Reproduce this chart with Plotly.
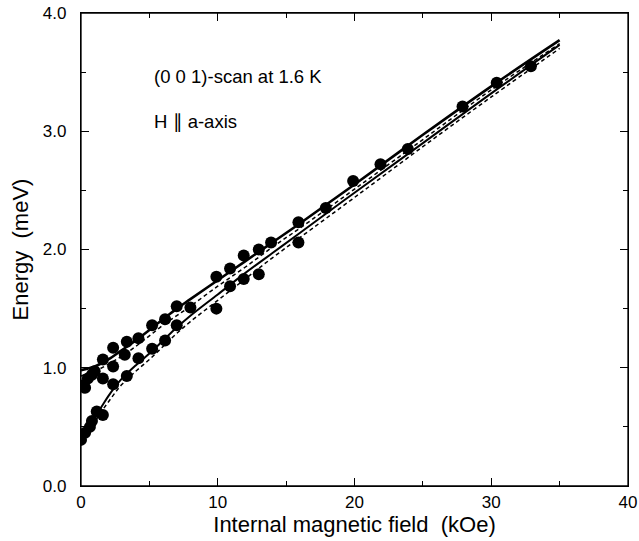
import plotly.graph_objects as go

# measured peaks, lower branch (kOe, meV)
low_field = [0.0, 0.3, 0.65, 0.8, 1.15, 1.6, 2.35, 3.35, 4.2, 5.2, 6.15, 7.0,
             9.9, 10.9, 11.9, 13.0, 15.9]
low_energy = [0.39, 0.45, 0.50, 0.55, 0.63, 0.60, 0.86, 0.93, 1.08, 1.16, 1.23, 1.36,
              1.50, 1.69, 1.75, 1.79, 2.06]

# measured peaks, upper branch
up_field = [0.0, 0.3, 0.5, 0.8, 1.0, 1.6, 1.6, 2.35, 2.35, 3.2, 3.35, 4.2, 5.2, 6.15,
            7.0, 8.0, 9.9, 10.9, 11.9, 13.0, 13.9, 15.9, 17.9, 19.9, 21.9, 23.9,
            27.9, 30.4, 32.9]
up_energy = [0.85, 0.83, 0.91, 0.94, 0.97, 0.91, 1.07, 1.01, 1.17, 1.11, 1.22, 1.25,
             1.36, 1.41, 1.52, 1.51, 1.77, 1.84, 1.95, 2.00, 2.06, 2.23, 2.35, 2.58,
             2.72, 2.85, 3.21, 3.41, 3.55]

# calculated curves
calc_field = [0, 1, 2, 3, 4, 5, 6, 7, 8, 10, 12, 14, 16, 20, 25, 30, 35]
calc_upper = [0.98, 1.01, 1.07, 1.15, 1.23, 1.32, 1.41, 1.50, 1.58, 1.74, 1.90, 2.06,
              2.22, 2.55, 2.97, 3.38, 3.77]
calc_upper_dash = [0.93, 0.97, 1.03, 1.10, 1.18, 1.27, 1.36, 1.44, 1.52, 1.69, 1.85, 2.02,
                   2.18, 2.51, 2.93, 3.35, 3.74]
calc_lower_field = [0, 0.5, 1, 1.5, 2, 2.5, 3, 4, 5, 6, 7, 8, 10, 12, 14, 16, 20, 25, 30, 35]
calc_lower = [0.38, 0.48, 0.58, 0.67, 0.76, 0.84, 0.91, 1.02, 1.12, 1.23, 1.34, 1.44, 1.62,
              1.80, 1.97, 2.14, 2.48, 2.90, 3.32, 3.73]
calc_lower_dash = [0.36, 0.45, 0.54, 0.63, 0.71, 0.79, 0.86, 0.97, 1.07, 1.18, 1.29, 1.39,
                   1.57, 1.75, 1.93, 2.10, 2.44, 2.87, 3.29, 3.70]

fig = go.Figure()

fig.add_trace(go.Scatter(x=calc_field, y=calc_upper, mode="lines", line_shape="spline",
                         line=dict(color="black", width=2.6)))
fig.add_trace(go.Scatter(x=calc_field, y=calc_upper_dash, mode="lines", line_shape="spline",
                         line=dict(color="black", width=1.5, dash="4px,3px")))
fig.add_trace(go.Scatter(x=calc_lower_field, y=calc_lower, mode="lines", line_shape="spline",
                         line=dict(color="black", width=2.0)))
fig.add_trace(go.Scatter(x=calc_lower_field, y=calc_lower_dash, mode="lines", line_shape="spline",
                         line=dict(color="black", width=1.5, dash="4px,3px")))

fig.add_trace(go.Scatter(x=low_field, y=low_energy, mode="markers",
                         marker=dict(color="black", size=12)))
fig.add_trace(go.Scatter(x=up_field, y=up_energy, mode="markers",
                         marker=dict(color="black", size=12)))

font = "Liberation Sans, Arial, sans-serif"
fig.add_annotation(x=5.2, y=3.46, text="(0 0 1)-scan at 1.6 K", showarrow=False,
                   xanchor="left", font=dict(size=18.5, family=font, color="black"))
fig.add_annotation(x=5.2, y=3.08, text="H ∥ a-axis", showarrow=False,
                   xanchor="left", font=dict(size=18.5, family=font, color="black"))

# frame around the plot area
fig.add_shape(type="rect", xref="paper", yref="paper", x0=0, y0=0, x1=1, y1=1,
              line=dict(color="black", width=1.3), layer="above")

axis_common = dict(showgrid=False, zeroline=False, showline=True, linecolor="black",
                   linewidth=1.3, mirror="allticks", ticks="inside", ticklen=8,
                   tickcolor="black", tickwidth=1.2, automargin=False,
                   ticklabeloverflow="allow",
                   tickfont=dict(size=17, family=font, color="black"))

fig.update_xaxes(range=[0, 40], tickvals=[0, 10, 20, 30, 40],
                 minor=dict(dtick=5, ticks="inside", ticklen=5, tickcolor="black"),
                 title=dict(text="Internal magnetic field\u00a0 (kOe)", standoff=2,
                            font=dict(size=22, family=font, color="black")),
                 **axis_common)
fig.update_yaxes(range=[0, 4], dtick=1, tickformat=".1f", ticklabelstandoff=10,
                 minor=dict(dtick=0.5, ticks="inside", ticklen=5, tickcolor="black"),
                 title=dict(text="Energy\u00a0 (meV)", standoff=8,
                            font=dict(size=22, family=font, color="black")),
                 **axis_common)

fig.update_layout(width=639, height=541, showlegend=False,
                  margin=dict(l=81, r=11, t=13, b=55),
                  plot_bgcolor="white", paper_bgcolor="white")

# drop the default page margin so the figure sits at the window corner
fig.write_html("out.html", config={"displayModeBar": False},
               post_script="document.body.style.margin='0';")
